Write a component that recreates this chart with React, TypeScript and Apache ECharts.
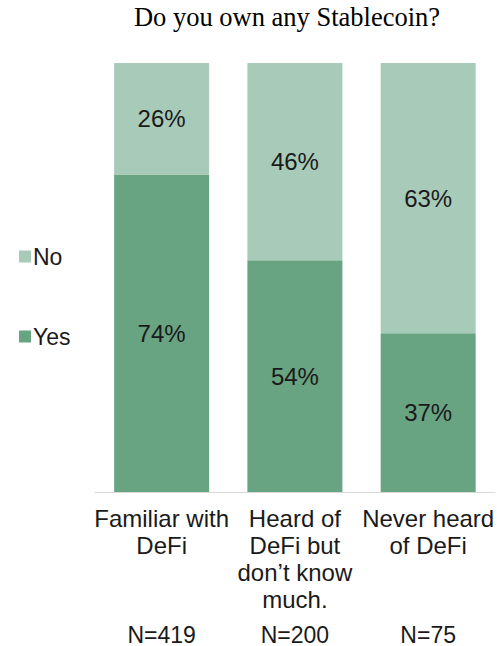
import React, { useEffect, useRef } from "react";
import * as echarts from "echarts";

const categories = ["Familiar with\nDeFi", "Heard of\nDeFi but\ndon’t know\nmuch.", "Never heard\nof DeFi"];
const sampleSizes = ["N=419", "N=200", "N=75"];
const yesValues = [74, 54, 37];
const noValues = [26, 46, 63];
const titleText = "Do you own any Stablecoin?";

const FONT = "'Liberation Sans', Arial, sans-serif";

export default function App() {
  const ref = useRef<HTMLDivElement>(null);
  useEffect(() => {
    if (!ref.current) return;
    const chart = echarts.init(ref.current, null, { renderer: "svg" });
    const label = {
      show: true,
      position: "inside",
      formatter: "{c}%",
      fontSize: 24,
      fontFamily: FONT,
      color: "#1a1a1a",
    };
    chart.setOption({
      animation: false,
      backgroundColor: "#ffffff",
      title: {
        text: titleText,
        left: 287,
        textAlign: "center",
        top: 3,
        padding: 0,
        textStyle: {
          fontFamily: "'Liberation Serif', 'Times New Roman', serif",
          fontWeight: "normal",
          fontSize: 26.5,
          color: "#000000",
        },
      },
      legend: {
        orient: "vertical",
        left: 14,
        top: 240,
        itemWidth: 12,
        itemHeight: 12,
        itemGap: 57,
        icon: "rect",
        data: ["No", "Yes"],
        textStyle: { fontFamily: FONT, fontSize: 23, lineHeight: 23, color: "#1a1a1a", padding: [0, 0, 0, -3] },
      },
      grid: { left: 95, right: 1, top: 63, bottom: 154 },
      xAxis: [
        {
          type: "category",
          data: categories,
          axisLine: { lineStyle: { color: "#d9d9d9", width: 1 } },
          axisTick: { show: false },
          axisLabel: {
            interval: 0,
            margin: 13,
            fontFamily: FONT,
            fontSize: 24,
            lineHeight: 27,
            color: "#1a1a1a",
            verticalAlign: "top",
          },
        },
        {
          type: "category",
          position: "bottom",
          offset: 127,
          data: sampleSizes,
          axisLine: { show: false },
          axisTick: { show: false },
          axisLabel: {
            interval: 0,
            margin: 4,
            fontFamily: FONT,
            fontSize: 23,
            lineHeight: 23,
            color: "#1a1a1a",
            verticalAlign: "top",
          },
        },
      ],
      yAxis: { type: "value", min: 0, max: 100, show: false },
      series: [
        {
          name: "Yes",
          type: "bar",
          stack: "total",
          barWidth: 95,
          data: yesValues,
          itemStyle: { color: "#68a382" },
          label,
        },
        {
          name: "No",
          type: "bar",
          stack: "total",
          barWidth: 95,
          data: noValues,
          itemStyle: { color: "#a8cab9" },
          label,
        },
      ],
    });
    return () => chart.dispose();
  }, []);
  return (
    <div
      ref={ref}
      style={{ position: "fixed", left: 0, top: 0, width: 497, height: 646, background: "#fff" }}
    />
  );
}
